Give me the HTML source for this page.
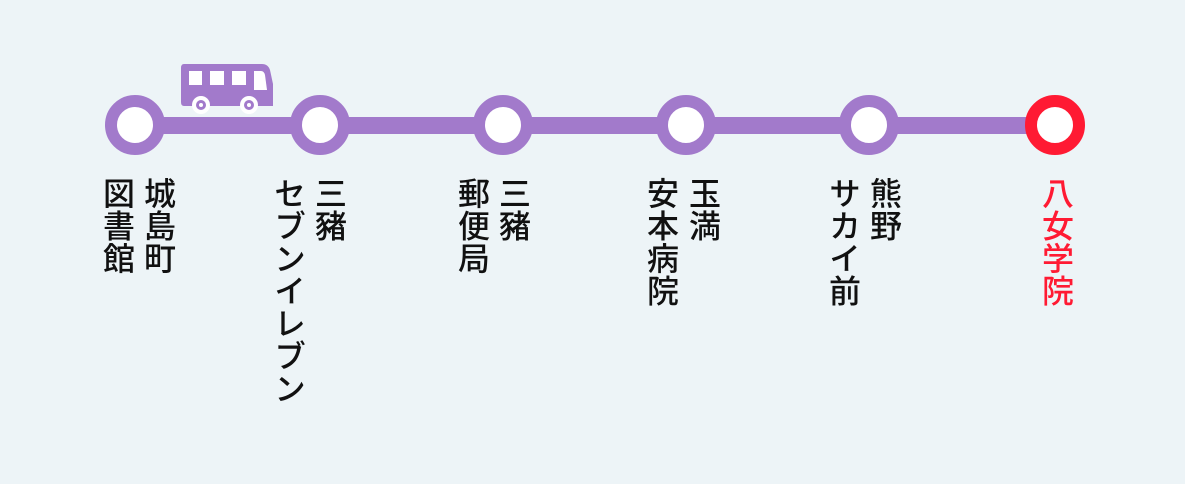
<!DOCTYPE html>
<html><head><meta charset="utf-8"><style>
html,body{margin:0;padding:0}
body{width:1185px;height:484px;background:#edf4f7;position:relative;overflow:hidden;font-family:"Liberation Sans","Noto Sans CJK JP",sans-serif}
.c{position:absolute;top:177px;width:40px;writing-mode:vertical-rl;font-size:32px;line-height:40px;color:#111;letter-spacing:0.5px;font-weight:500}
.st{position:absolute;top:95px;width:36px;height:36px;border:12px solid #a27acb;border-radius:50%;background:#fff;box-sizing:content-box}
</style></head><body>
<div style="position:absolute;left:135px;top:117px;width:920px;height:17px;background:#a27acb"></div>
<div class="st" style="left:105px"></div>
<div class="st" style="left:290px"></div>
<div class="st" style="left:473px"></div>
<div class="st" style="left:656px"></div>
<div class="st" style="left:839px"></div>
<div class="st" style="left:1025px;border-color:#ff1a33"></div>
<svg style="position:absolute;left:180px;top:62px" width="96" height="54" viewBox="0 0 96 54">
<path d="M4 2 H82 Q88 2 90 8 L93 22 V44 H4 Q1 44 1 40 V6 Q1 2 4 2 Z" fill="#a27acb"/>
<rect x="9" y="9" width="13" height="14" fill="#fff"/>
<rect x="30" y="9" width="14" height="14" fill="#fff"/>
<rect x="52" y="9" width="14" height="14" fill="#fff"/>
<path d="M74 9 H81 Q84 9 85 13 L87 28 H74 Z" fill="#fff"/>
<circle cx="21" cy="43" r="9" fill="#fff"/><circle cx="21" cy="43" r="5" fill="#a27acb"/><circle cx="21" cy="43" r="2" fill="#fff"/>
<circle cx="69" cy="43" r="9" fill="#fff"/><circle cx="69" cy="43" r="5" fill="#a27acb"/><circle cx="69" cy="43" r="2" fill="#fff"/>
</svg>
<div class="c" style="left:138px">城島町</div>
<div class="c" style="left:97px">図書館</div>
<div class="c" style="left:309px">三豬</div>
<div class="c" style="left:268px">セブンイレブン</div>
<div class="c" style="left:493px">三豬</div>
<div class="c" style="left:452px">郵便局</div>
<div class="c" style="left:683px">玉満</div>
<div class="c" style="left:641px">安本病院</div>
<div class="c" style="left:864px">熊野</div>
<div class="c" style="left:823px">サカイ前</div>
<div class="c" style="left:1036px;color:#ff1a33">八女学院</div>
</body></html>
